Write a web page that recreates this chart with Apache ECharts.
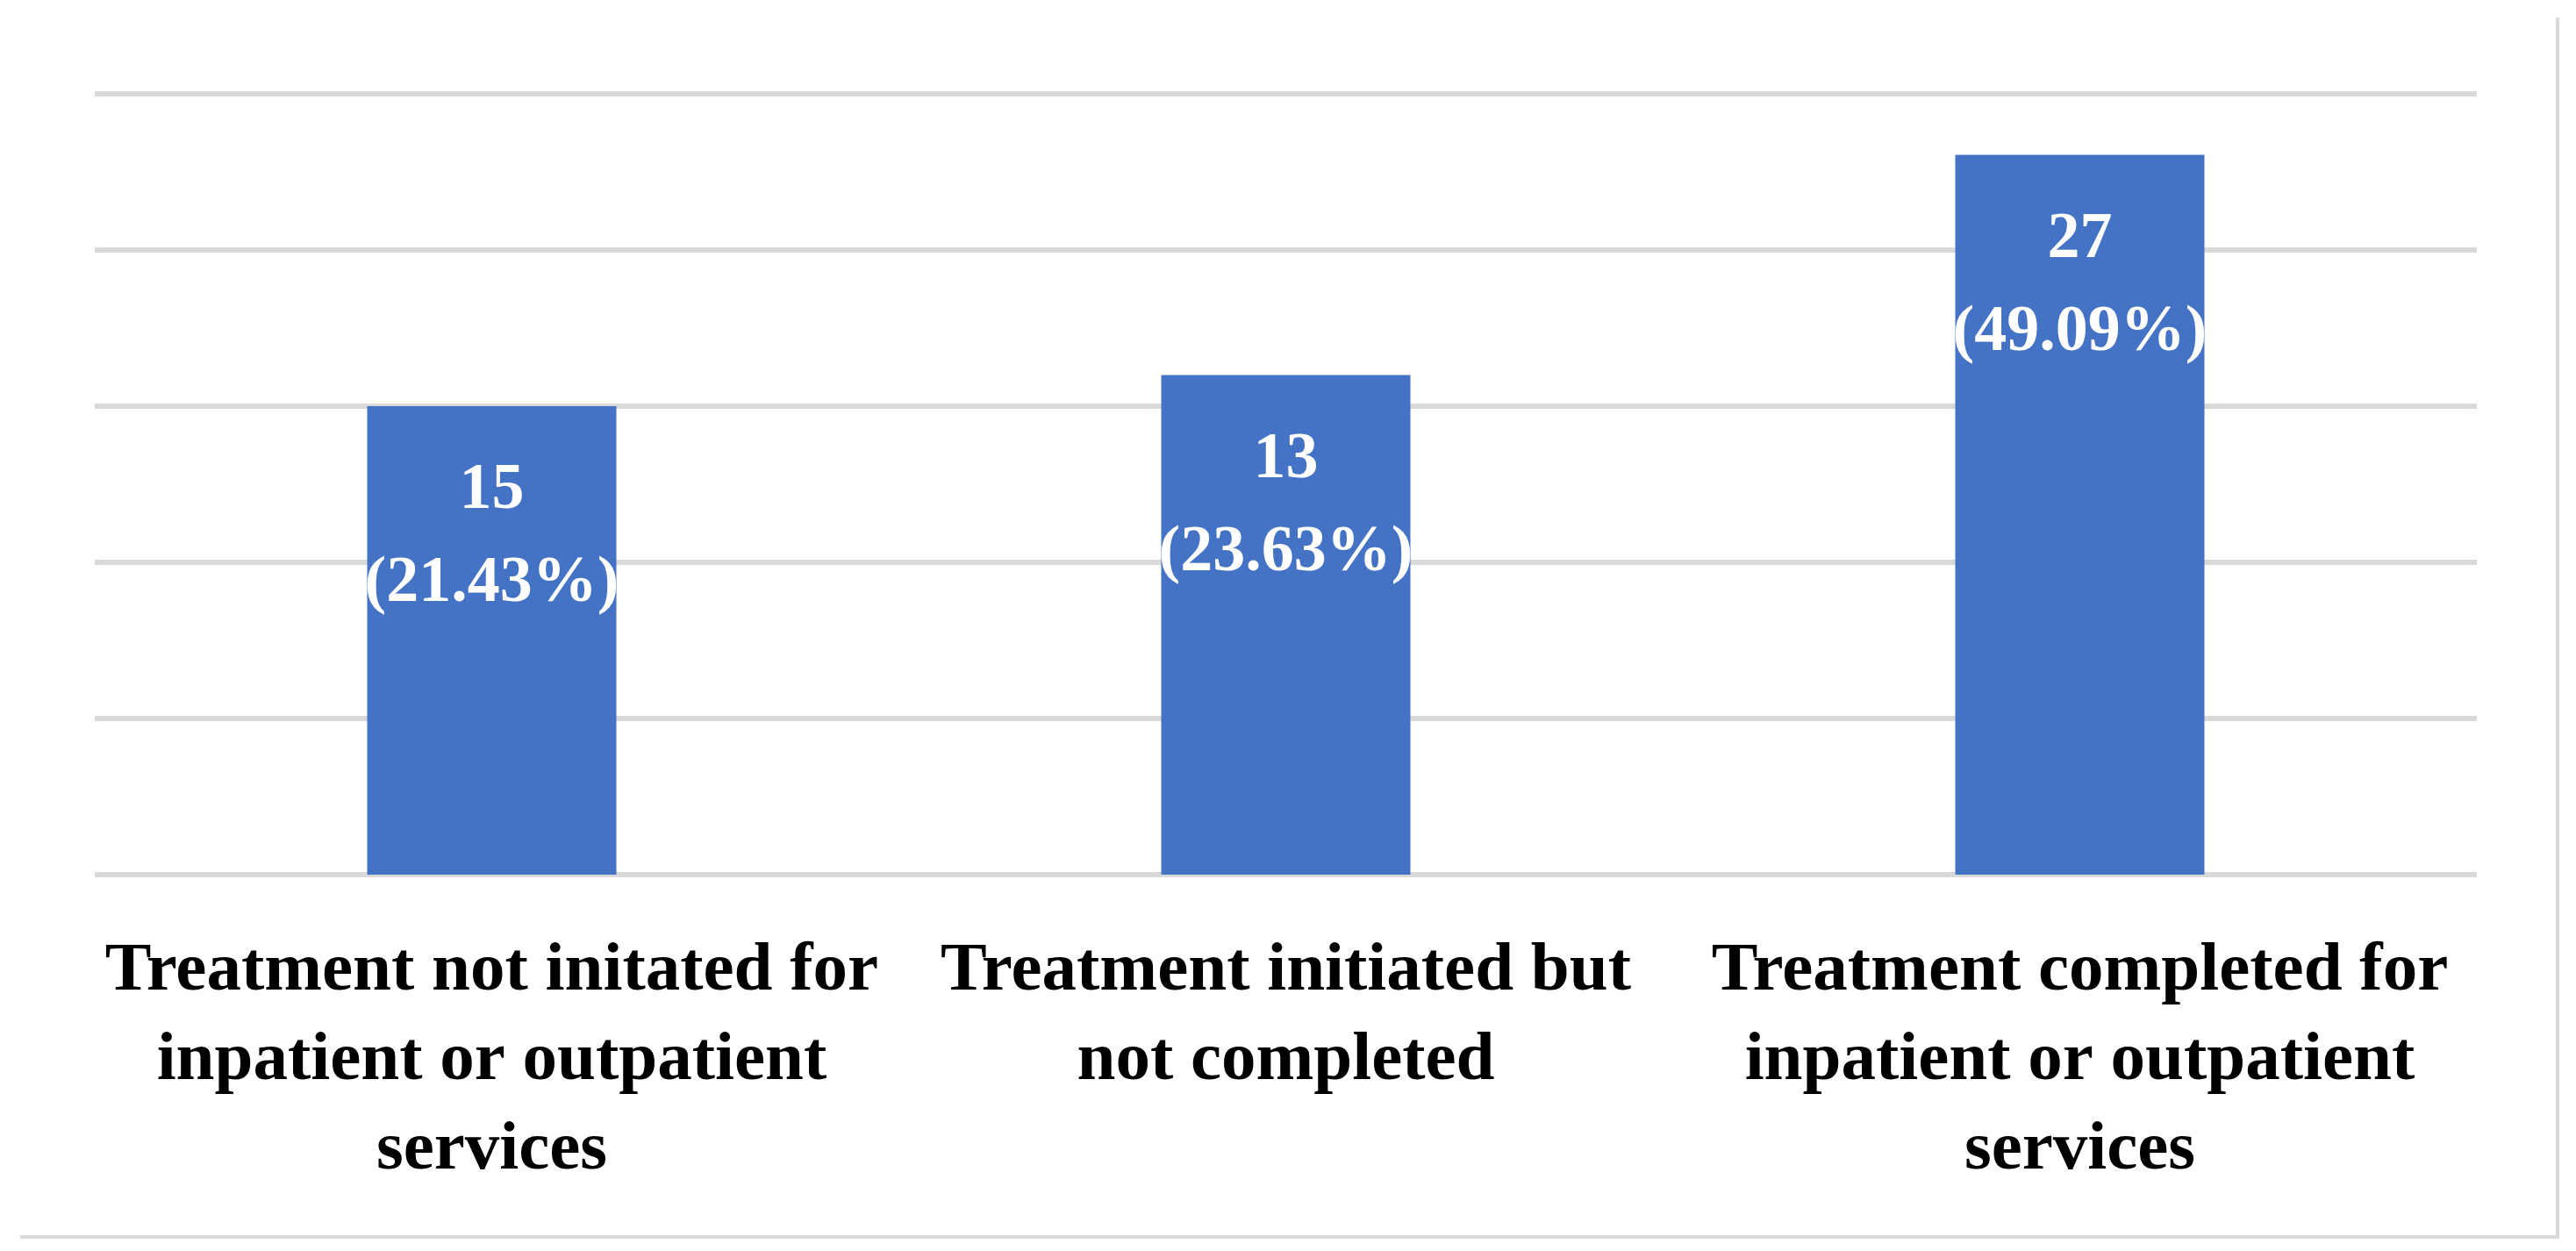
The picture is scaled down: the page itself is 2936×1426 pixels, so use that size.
<!DOCTYPE html>
<html>
<head>
<meta charset="utf-8">
<script src="https://cdn.jsdelivr.net/npm/echarts@6/dist/echarts.min.js"></script>
<style>
  html, body { margin: 0; padding: 0; background: #ffffff; }
  #chart { width: 2936px; height: 1426px; }
</style>
</head>
<body>
<div id="chart"></div>
<script>
// Category tick labels (line breaks as in the reference)
const categories = [
  "Treatment not initated for\ninpatient or outpatient\nservices",
  "Treatment initiated but\nnot completed",
  "Treatment completed for\ninpatient or outpatient\nservices"
];
// Bar heights as drawn, in units of the (unlabelled) value axis
const barHeights = [30, 32, 46.1];
// Counts and percentages printed inside the bars
const counts = [15, 13, 27];
const percents = ["21.43", "23.63", "49.09"];
// Hidden value-axis range
const axisMin = 0;
const axisMax = 50;
const axisStep = 10;

const chart = echarts.init(document.getElementById('chart'), null, { renderer: 'canvas' });
const FONT = '"Liberation Serif", "Times New Roman", serif';

chart.setOption({
  animation: false,
  backgroundColor: '#ffffff',
  grid: { left: 108, right: 113, top: 107, bottom: 429, containLabel: false },
  xAxis: {
    type: 'category',
    data: categories,
    axisLine: { show: false },
    axisTick: { show: false },
    axisLabel: {
      interval: 0,
      margin: 60,
      color: '#000000',
      fontFamily: FONT,
      fontWeight: 'bold',
      fontSize: 79,
      lineHeight: 102,
      align: 'center'
    },
    splitLine: { show: false }
  },
  yAxis: {
    type: 'value',
    min: axisMin,
    max: axisMax,
    interval: axisStep,
    axisLine: { show: false },
    axisTick: { show: false },
    axisLabel: { show: false },
    splitLine: { show: true, lineStyle: { color: '#d9d9d9', width: 6 } }
  },
  series: [{
    type: 'bar',
    data: barHeights,
    barWidth: 284,
    itemStyle: { color: '#4472C4' },
    label: {
      show: true,
      position: 'insideTop',
      distance: 44,
      color: '#ffffff',
      fontFamily: FONT,
      fontWeight: 'bold',
      fontSize: 74,
      lineHeight: 106,
      align: 'center',
      formatter: function (p) {
        return counts[p.dataIndex] + '\n(' + percents[p.dataIndex] + '%)';
      }
    }
  }],
  graphic: [
    { type: 'rect', left: 2913, top: 20, shape: { width: 4, height: 1391 }, style: { fill: '#dadada' }, silent: true },
    { type: 'rect', left: 23, top: 1408, shape: { width: 2894, height: 4 }, style: { fill: '#dadada' }, silent: true }
  ]
});
</script>
</body>
</html>
